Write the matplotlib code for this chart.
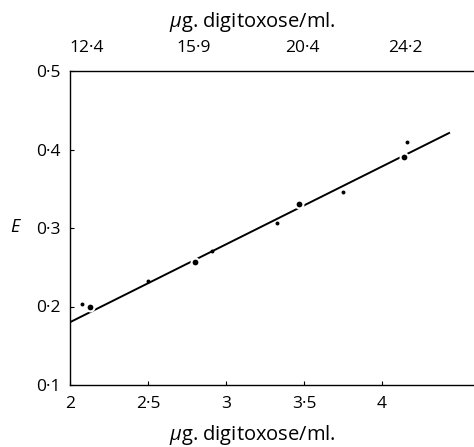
import numpy as np
import matplotlib
matplotlib.use('Agg')
import matplotlib.pyplot as plt

# data
big_x = [2.13, 2.80, 3.47, 4.14]
big_y = [0.200, 0.257, 0.330, 0.391]
small_x = [2.08, 2.50, 2.91, 3.33, 3.75, 4.16]
small_y = [0.203, 0.232, 0.271, 0.307, 0.346, 0.409]
line_x = [2.0, 4.43]
line_y = [0.180, 0.421]

bottom_ticks = [2, 2.5, 3, 3.5, 4]
bottom_labels = ['2', '2·5', '3', '3·5', '4']
left_ticks = [0.1, 0.2, 0.3, 0.4, 0.5]
left_labels = ['0·1', '0·2', '0·3', '0·4', '0·5']
top_ticks = [2.11, 2.79, 3.49, 4.15]
top_labels = ['12·4', '15·9', '20·4', '24·2']
axis_label = '$\\mu$g. digitoxose/ml.'

plt.rcParams['font.family'] = ['Open Sans', 'DejaVu Sans']
plt.rcParams['mathtext.fontset'] = 'custom'
plt.rcParams['mathtext.it'] = 'Open Sans:italic'
plt.rcParams['mathtext.rm'] = 'Open Sans'

fs = 12.5
W, H = 474, 447

fig = plt.figure(figsize=(W / 100, H / 100), dpi=100)
ax = fig.add_axes([70 / W, 1 - 385 / H, 404 / W, 314 / H])

ax.plot(line_x, line_y, color='black', lw=1.4, zorder=1)
ax.scatter(small_x, small_y, s=8, color='black', zorder=2, linewidths=0)
ax.scatter(big_x, big_y, s=32, color='black', edgecolors='white', linewidths=1.5, zorder=3)

ax.set_xlim(2, 2 + 404 / 156)
ax.set_ylim(0.1, 0.5)

ax.set_xticks(bottom_ticks)
ax.set_xticklabels(bottom_labels)
ax.set_yticks(left_ticks)
ax.set_yticklabels(left_labels)
ax.tick_params(axis='x', direction='in', length=3, width=0.8, labelsize=fs, pad=8)
ax.tick_params(axis='y', direction='in', length=3, width=0.8, labelsize=fs, pad=7)

ax.spines['right'].set_visible(False)
for s in ['left', 'bottom', 'top']:
    ax.spines[s].set_linewidth(1.0)

top = ax.secondary_xaxis('top')
top.set_xticks(top_ticks)
top.set_xticklabels(top_labels)
top.tick_params(length=0, labelsize=fs, pad=11)
top.spines['top'].set_visible(False)

# axis titles placed in figure pixels
fig.text(252 / W, 1 - 27 / H, axis_label, fontsize=14.5, ha='center', va='baseline')
fig.text(252 / W, 1 - 440 / H, axis_label, fontsize=14.5, ha='center', va='baseline')
fig.text(15 / W, 1 - 227 / H, 'E', fontsize=13, style='italic', ha='center', va='center')

fig.savefig('out.png', dpi=100)
